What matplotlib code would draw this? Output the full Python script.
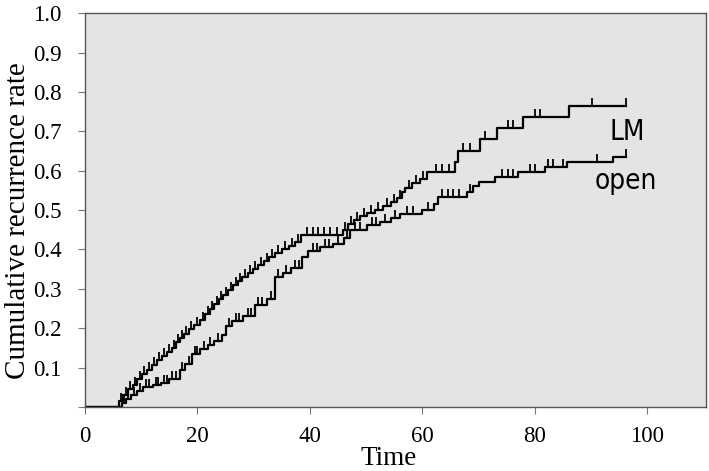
import numpy as np
import matplotlib
matplotlib.use("Agg")
import matplotlib.pyplot as plt
from matplotlib import font_manager
from matplotlib.font_manager import FontProperties

# event times / cumulative levels
lm_t = [6.0, 6.8, 7.6, 8.5, 9.3, 10.1, 11.0, 11.9, 12.8, 13.6, 14.5, 15.4, 16.2, 16.9,
        17.6, 18.4, 19.4, 20.5, 21.4, 22.2, 23.0, 23.8, 24.6, 25.5, 26.4, 27.2, 28.0,
        28.9, 29.8, 30.8, 31.8, 32.8, 33.8, 35.0, 36.2, 37.3, 38.5, 45.8, 46.8, 47.8,
        49.0, 50.2, 51.5, 53.0, 54.5, 55.5, 56.3, 57.0, 58.2, 59.5, 60.8, 65.9, 66.3,
        70.3, 73.3, 78.0, 86.1]
lm_y = [.015, .030, .045, .055, .070, .083, .095, .107, .120, .130, .140, .150, .165, .175,
        .185, .197, .207, .220, .235, .250, .262, .275, .285, .297, .310, .320, .330,
        .340, .350, .360, .370, .380, .390, .400, .410, .420, .437, .450, .465, .475,
        .485, .493, .500, .510, .520, .530, .545, .555, .570, .580, .597, .622, .650,
        .680, .708, .736, .765]
lm_cens = [6.4, 7.2, 8.0, 8.9, 9.7, 10.5, 11.4, 12.3, 13.2, 14.0, 14.9, 15.8, 16.6, 17.3,
           18.0, 18.9, 19.9, 21.0, 21.8, 22.6, 23.4, 24.2, 25.0, 26.0, 26.8, 27.6, 28.5,
           29.4, 30.3, 31.3, 32.3, 33.3, 34.4, 35.6, 36.8, 37.9, 39.5, 40.5, 41.5, 42.5,
           43.5, 44.8, 46.3, 47.3, 48.4, 49.6, 50.8, 52.2, 53.7, 55.0, 56.0, 57.6, 58.8,
           60.2, 62.5, 63.5, 64.8, 67.3, 68.5, 71.2, 75.3, 76.2, 80.0, 81.0, 90.2, 96.3]

open_t = [6.5, 7.3, 8.2, 9.2, 10.3, 12.0, 13.5, 15.0, 16.9, 17.8, 19.0, 20.5, 21.8, 23.0,
          24.3, 25.0, 26.2, 28.1, 30.2, 32.3, 33.8, 35.2, 36.6, 38.6, 39.6, 41.8, 44.1,
          46.0, 47.2, 50.1, 52.5, 54.5, 56.0, 59.9, 62.0, 62.8, 67.9, 69.0, 70.0, 73.0,
          77.0, 81.9, 85.8, 94.0]
open_y = [.010, .020, .030, .040, .050, .055, .062, .070, .095, .110, .135, .148, .158, .168,
          .183, .205, .218, .232, .258, .275, .330, .340, .352, .380, .395, .405, .415,
          .430, .450, .462, .470, .480, .490, .500, .515, .533, .546, .560, .572, .584,
          .597, .610, .623, .636]
open_cens = [6.9, 7.7, 8.7, 9.7, 10.8, 11.4, 12.6, 13.0, 14.0, 14.5, 15.5, 16.2, 17.3, 18.4,
             19.6, 20.0, 21.2, 22.3, 23.6, 25.6, 26.8, 27.4, 29.0, 29.6, 30.8, 31.5, 33.0,
             34.4, 35.8, 37.4, 38.0, 40.5, 41.2, 42.6, 43.4, 45.0, 46.6, 48.0, 49.0, 51.0,
             51.8, 53.4, 55.2, 57.2, 58.3, 61.0, 63.5, 64.5, 65.5, 66.5, 68.5, 74.2, 75.3,
             76.2, 79.2, 80.0, 82.4, 83.3, 85.0, 91.1, 96.3]

t_end = 96.3


def narrow_font():
    # the curve names are set in a narrow sans; use one if any is installed
    found = []
    for f in font_manager.fontManager.ttflist:
        narrowish = ('Narrow' in f.name or 'Condensed' in f.name
                     or 'condensed' in str(f.stretch))
        if narrowish and 'Serif' not in f.name and 'Mono' not in f.name \
                and f.style == 'normal' and str(f.weight) in ('400', 'normal', 'regular'):
            found.append(f)
    if found:
        found.sort(key=lambda f: ('Liberation' not in f.name, 'DejaVu' not in f.name))
        return dict(fname=found[0].fname)
    return dict(family='Liberation Sans')


def draw_curve(ax, times, levels, cens):
    xs = np.r_[0, times, t_end]
    ys = np.r_[0, levels, levels[-1]]
    ax.step(xs, ys, where='post', color='black', lw=1.6)
    # censor marks sit on the curve, pointing up
    idx = np.searchsorted(times, cens, side='right')
    cy = np.r_[0, levels][idx]
    ax.plot(cens, cy, ls='none', marker=2, ms=6, mew=1.3, color='black')


fig = plt.figure(figsize=(7.09, 4.71), dpi=100)
ax = fig.add_axes([0.12, 0.136, 0.876, 0.836])
ax.set_facecolor('#e4e4e4')

draw_curve(ax, lm_t, lm_y, lm_cens)
draw_curve(ax, open_t, open_y, open_cens)

ax.set_xlim(0, 110.5)
ax.set_ylim(0, 1.0)
ax.set_xticks([0, 20, 40, 60, 80, 100])
ax.set_yticks(np.arange(0, 1.01, 0.1))
ax.set_yticklabels([''] + ['%.1f' % v for v in np.arange(0.1, 1.01, 0.1)])

for s in ax.spines.values():
    s.set_color('#555555')
    s.set_linewidth(1.0)
ax.tick_params(direction='out', length=5, color='#777777', labelsize=16.5,
               labelfontfamily='Liberation Serif')
ax.tick_params(axis='y', pad=12)
ax.tick_params(axis='x', pad=9)

ax.set_xlabel('Time', fontsize=19.5, family='Liberation Serif')
ax.xaxis.set_label_coords(0.488, -0.1)
ax.set_ylabel('Cumulative recurrence rate', fontsize=21, family='Liberation Serif')
ax.yaxis.set_label_coords(-0.087, 0.472)

nf = narrow_font()
ax.text(0.845, 0.699, 'LM', transform=ax.transAxes,
        fontproperties=FontProperties(size=20, **nf), ha='left', va='center')
ax.text(0.821, 0.574, 'open', transform=ax.transAxes,
        fontproperties=FontProperties(size=20, **nf), ha='left', va='center')

fig.savefig('out.png', dpi=100)
